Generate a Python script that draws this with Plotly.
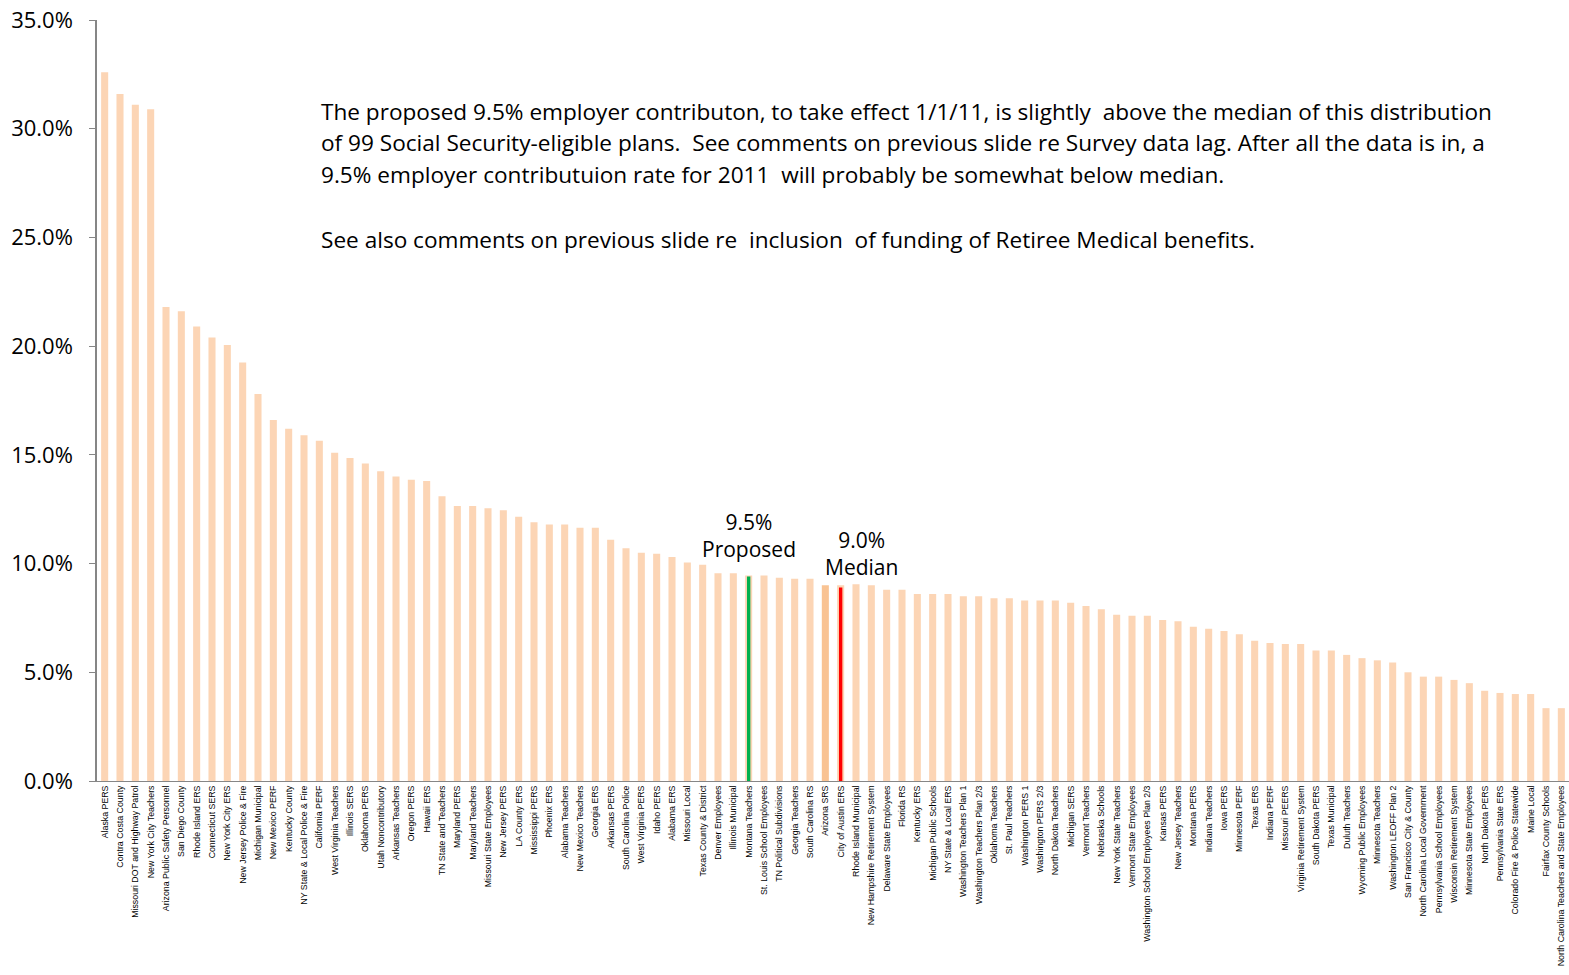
import plotly.graph_objects as go

plans = [
    "Alaska PERS", "Contra Costa County", "Missouri DOT and Highway Patrol", "New York City Teachers",
    "Arizona Public Safety Personnel", "San Diego County", "Rhode Island ERS", "Connecticut SERS",
    "New York City ERS", "New Jersey Police & Fire", "Michigan Municipal", "New Mexico PERF",
    "Kentucky County", "NY State & Local Police & Fire", "California PERF", "West Virginia Teachers",
    "Illinois SERS", "Oklahoma PERS", "Utah Noncontributory", "Arkansas Teachers",
    "Oregon PERS", "Hawaii ERS", "TN State and Teachers", "Maryland PERS",
    "Maryland Teachers", "Missouri State Employees", "New Jersey PERS", "LA County ERS",
    "Mississippi PERS", "Phoenix ERS", "Alabama Teachers", "New Mexico Teachers",
    "Georgia ERS", "Arkansas PERS", "South Carolina Police", "West Virginia PERS",
    "Idaho PERS", "Alabama ERS", "Missouri Local", "Texas County & District",
    "Denver Employees", "Illinois Municipal", "Montana Teachers", "St. Louis School Employees",
    "TN Political Subdivisions", "Georgia Teachers", "South Carolina RS", "Arizona SRS",
    "City of Austin ERS", "Rhode Island Municipal", "New Hampshire Retirement System", "Delaware State Employees",
    "Florida RS", "Kentucky ERS", "Michigan Public Schools", "NY State & Local ERS",
    "Washington Teachers Plan 1", "Washington Teachers Plan 2/3", "Oklahoma Teachers", "St. Paul Teachers",
    "Washington PERS 1", "Washington PERS 2/3", "North Dakota Teachers", "Michigan SERS",
    "Vermont Teachers", "Nebraska Schools", "New York State Teachers", "Vermont State Employees",
    "Washington School Employees Plan 2/3", "Kansas PERS", "New Jersey Teachers", "Montana PERS",
    "Indiana Teachers", "Iowa PERS", "Minnesota PERF", "Texas ERS",
    "Indiana PERF", "Missouri PEERS", "Virginia Retirement System", "South Dakota PERS",
    "Texas Municipal", "Duluth Teachers", "Wyoming Public Employees", "Minnesota Teachers",
    "Washington LEOFF Plan 2", "San Francisco City & County", "North Carolina Local Government", "Pennsylvania School Employees",
    "Wisconsin Retirement System", "Minnesota State Employees", "North Dakota PERS", "Pennsylvania State ERS",
    "Colorado Fire & Police Statewide", "Maine Local", "Fairfax County Schools", "North Carolina Teachers and State Employees",
]

rates = [
    32.6, 31.6, 31.1, 30.9, 21.8, 21.6, 20.9, 20.4, 20.05, 19.25,
    17.8, 16.6, 16.2, 15.9, 15.65, 15.1, 14.85, 14.6, 14.25, 14.0,
    13.85, 13.8, 13.1, 12.65, 12.65, 12.55, 12.45, 12.15, 11.9, 11.8,
    11.8, 11.65, 11.65, 11.1, 10.7, 10.5, 10.45, 10.3, 10.05, 9.95,
    9.55, 9.55, 9.45, 9.45, 9.35, 9.3, 9.3, 9.0, 9.0, 9.05,
    9.0, 8.8, 8.8, 8.6, 8.6, 8.6, 8.5, 8.5, 8.4, 8.4,
    8.3, 8.3, 8.3, 8.2, 8.05, 7.9, 7.65, 7.6, 7.6, 7.4,
    7.35, 7.1, 7.0, 6.9, 6.75, 6.45, 6.35, 6.3, 6.3, 6.0,
    6.0, 5.8, 5.65, 5.55, 5.45, 5.0, 4.8, 4.8, 4.65, 4.5,
    4.15, 4.05, 4.0, 4.0, 3.35, 3.35,
]

highlight_plans = ["Montana Teachers", "City of Austin ERS"]
highlight_rates = [9.4, 8.9]
highlight_colors = ["#00B050", "#FF0000"]

median_plan = "Arizona SRS"
base_color = "#FCD5B5"
median_color = "#F9C393"
colors = [median_color if p == median_plan else base_color for p in plans]

FONT = "Open Sans, Lato, Liberation Sans, Arial"

fig = go.Figure()
fig.add_trace(go.Bar(x=plans, y=rates, marker=dict(color=colors, line=dict(width=0)),
                     width=0.46, showlegend=False, hoverinfo="x+y"))
fig.add_trace(go.Bar(x=highlight_plans, y=highlight_rates, marker=dict(color=highlight_colors, line=dict(width=0)),
                     width=0.22, showlegend=False, hoverinfo="x+y"))

fig.add_annotation(x="Montana Teachers", y=9.4, text="9.5%<br>Proposed", showarrow=False,
                   yanchor="bottom", yshift=12, font=dict(family=FONT, size=21, color="#000"))
fig.add_annotation(x="Rhode Island Municipal", y=9.0, text="9.0%<br>Median", showarrow=False,
                   yanchor="bottom", xshift=5, yshift=2, font=dict(family=FONT, size=21, color="#000"))

lines = [
    ("The proposed 9.5% employer contributon, to take effect 1/1/11, is slightly  above the median of this distribution", 111),
    ("of 99 Social Security-eligible plans.  See comments on previous slide re Survey data lag. After all the data is in, a", 143),
    ("9.5% employer contributuion rate for 2011  will probably be somewhat below median.", 175),
    ("See also comments on previous slide re  inclusion  of funding of Retiree Medical benefits.", 239),
]
for t, yc in lines:
    fig.add_annotation(xref="paper", yref="paper", x=(319 - 97) / 1472, y=(781 - yc) / 761,
                       xanchor="left", yanchor="middle", text=t, showarrow=False,
                       font=dict(family=FONT, size=22.6, color="#000"))

fig.update_layout(
    width=1569, height=975,
    margin=dict(l=97, r=0, t=20, b=194),
    plot_bgcolor="white", paper_bgcolor="white",
    barmode="overlay",
    bargap=0.5,
)
fig.update_yaxes(range=[0, 35], dtick=5, tickformat=".1f", ticksuffix="%",
                 showgrid=False, zeroline=False, showline=True, linecolor="#868686", linewidth=1.5,
                 ticks="outside", ticklen=6, tickcolor="#868686", ticklabelstandoff=12,
                 tickfont=dict(family=FONT, size=22, color="#000"))
fig.update_xaxes(tickangle=-90, showgrid=False, showline=True, linecolor="#868686", linewidth=1,
                 tickfont=dict(family="Liberation Sans, Arial", size=8.8, color="#000"),
                 categoryorder="array", categoryarray=plans)

fig.write_html("out.html")
